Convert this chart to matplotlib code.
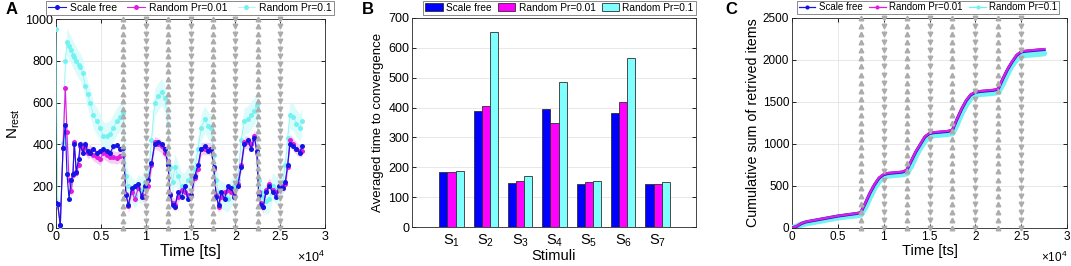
import matplotlib
matplotlib.use("Agg")
import matplotlib.pyplot as plt
import numpy as np

plt.rcParams['font.family'] = ['Liberation Sans', 'DejaVu Sans']
plt.rcParams['mathtext.default'] = 'regular'

# series names / colours
names = ["Scale free", "Random Pr=0.01", "Random Pr=0.1"]

# stimulus switch times (grey triangle columns)
stim_up = [7500, 12500, 17500, 22500]
stim_down = [10000, 15000, 20000, 25000]

# panel A: N_rest over time
t_a = [0, 185, 480, 780, 1036, 1220, 1450, 1700, 1890, 2035, 2260, 2520, 2700, 3000,
       3260, 3515, 3800, 4180, 4550, 4920, 5290, 5660, 6030, 6400, 6770, 7140, 7500,
       7800, 8070, 8440, 8800, 9180, 9550, 9900, 10300, 10650, 11000, 11400, 11770,
       12140, 12500, 12700, 13000, 13250, 13600, 14000, 14350, 14700, 15100, 15470,
       15840, 16200, 16580, 16950, 17300, 17600, 17870, 18130, 18430, 18800, 19170,
       19540, 19900, 20280, 20650, 21000, 21400, 21760, 22130, 22400, 22600, 22870,
       23120, 23400, 23800, 24160, 24530, 24900, 25270, 25570, 25830, 26080, 26450,
       26820, 27200, 27420]
nrest_sf = [120, 115, 15, 385, 495, 260, 140, 230, 260, 400, 270, 330, 400, 360,
            400, 370, 360, 380, 360, 370, 380, 370, 360, 390, 395, 380, 385,
            160, 110, 190, 200, 210, 150, 200, 230, 310, 400, 410, 400,
            380, 300, 160, 110, 100, 170, 150, 200, 140, 160, 250,
            300, 380, 390, 370, 380, 290, 150, 110, 170, 140, 200,
            190, 150, 200, 290, 400, 420, 380, 430, 370, 160, 110,
            100, 170, 200, 170, 150, 200, 190, 220, 300, 400, 390,
            380, 360, 390]
nrest_r01 = [120, 115, 12, 385, 670, 460, 230, 175, 255, 410, 265, 300, 390, 380,
             390, 360, 370, 350, 340, 330, 360, 350, 340, 340, 335, 345, 350,
             165, 105, 170, 140, 190, 160, 150, 200, 300, 410, 400, 390,
             360, 320, 165, 120, 110, 150, 180, 170, 160, 160, 240,
             280, 380, 380, 380, 380, 280, 160, 100, 150, 170, 180,
             170, 160, 210, 300, 410, 410, 400, 440, 360, 170, 120,
             100, 180, 210, 180, 170, 180, 200, 210, 290, 420, 400,
             380, 370, 370]
nrest_r1 = [950, 110, 10, 405, 800, 890, 870, 850, 830, 820, 800, 780, 770, 740,
            680, 640, 600, 540, 510, 480, 440, 440, 450, 480, 510, 530, 550,
            250, 200, 180, 160, 190, 180, 220, 250, 420, 600, 630, 650,
            620, 500, 290, 220, 290, 250, 200, 200, 230, 240, 280,
            380, 480, 520, 490, 480, 350, 230, 170, 160, 150, 140,
            170, 200, 230, 420, 510, 520, 540, 560, 590, 230, 170,
            150, 130, 140, 200, 180, 190, 220, 300, 430, 540, 530,
            500, 480, 510]
# half-width of shaded spread per series
spread_a = [12, 30, 65]

# panel B: averaged time to convergence per stimulus
stimuli = ["S$_1$", "S$_2$", "S$_3$", "S$_4$", "S$_5$", "S$_6$", "S$_7$"]
conv_sf = [185, 390, 148, 395, 145, 383, 145]
conv_r01 = [183, 405, 155, 348, 150, 420, 145]
conv_r1 = [186, 652, 172, 487, 155, 565, 152]

# panel C: cumulative retrieved items
t_c = [0, 500, 1000, 1500, 2000, 3000, 4000, 5000, 6000, 7000, 7500, 8000, 8500,
       9000, 9500, 10000, 10500, 11000, 11500, 12000, 12500, 13000, 13500, 14000,
       14500, 15000, 15500, 16000, 16500, 17000, 17500, 18000, 18500, 19000, 19500,
       20000, 20500, 21000, 21500, 22000, 22500, 23000, 23500, 24000, 24500, 25000,
       25500, 26000, 26500, 27000, 27500]
cum_sf = [0, 18, 52, 72, 82, 102, 122, 142, 157, 172, 182, 295, 415, 515, 595, 635,
          650, 655, 660, 665, 685, 795, 905, 995, 1085, 1125, 1135, 1140, 1145, 1150,
          1165, 1295, 1415, 1515, 1585, 1615, 1625, 1630, 1635, 1640, 1655, 1775,
          1885, 1975, 2055, 2095, 2105, 2110, 2115, 2120, 2125]
cum_r01 = [0, 20, 55, 75, 85, 105, 125, 145, 160, 175, 185, 300, 420, 520, 600, 640,
           655, 660, 665, 670, 690, 800, 910, 1000, 1090, 1130, 1140, 1145, 1150, 1155,
           1170, 1300, 1420, 1520, 1590, 1620, 1630, 1635, 1640, 1645, 1660, 1780,
           1890, 1980, 2060, 2100, 2110, 2115, 2120, 2125, 2130]
cum_r1 = [0, 15, 40, 55, 65, 85, 105, 125, 140, 150, 160, 250, 370, 480, 560, 605,
          625, 630, 635, 640, 650, 740, 860, 960, 1040, 1090, 1105, 1110, 1115, 1120,
          1130, 1240, 1370, 1470, 1550, 1585, 1595, 1600, 1605, 1610, 1620, 1720,
          1840, 1940, 2010, 2050, 2060, 2065, 2070, 2075, 2080]

line_cols = ['#1414e6', '#e01ee0', '#74f2f2']
band_cols = ['#c4c4ff', '#f2c6f2', '#d4fafa']
bar_cols = ['#0000ff', '#ff00ff', '#80ffff']
tri_col = '#acacac'

W, H = 1071, 266
fig = plt.figure(figsize=(W / 100, H / 100), dpi=100)


def fx(px):
    return px / W


def fy(py):
    return 1 - py / H


def style_axes(ax, ts):
    ax.tick_params(direction='in', length=3, width=0.6, labelsize=ts,
                   top=True, right=True, pad=2)
    for s in ax.spines.values():
        s.set_linewidth(0.6)
        s.set_color('#262626')
    ax.grid(True, color='#e4e4e4', linewidth=0.6)
    ax.set_axisbelow(True)


def time_axis(ax, fs, off_fs):
    ax.set_xlim(0, 30000)
    ax.set_xticks(np.arange(0, 30001, 5000))
    ax.set_xticklabels(['0', '0.5', '1', '1.5', '2', '2.5', '3'])
    ax.set_xlabel('Time [ts]', fontsize=fs, labelpad=1)
    ax.text(1.0, -0.105, r'$\times$10$^4$', transform=ax.transAxes,
            ha='right', va='top', fontsize=off_fs)


def triangles(ax, ymax, n):
    ys = np.linspace(0, ymax, n)
    for t in stim_up:
        ax.plot([t] * n, ys, linestyle='none', marker='^', ms=3.3,
                color=tri_col, mec=tri_col, zorder=6, clip_on=False)
    for t in stim_down:
        ax.plot([t] * n, ys, linestyle='none', marker='v', ms=3.3,
                color=tri_col, mec=tri_col, zorder=6, clip_on=False)


def top_legend(ax, handles, x0, x1, fs, colsp):
    leg = ax.legend(handles=handles, labels=names, ncol=3,
                    loc='upper center',
                    bbox_to_anchor=(fx((x0 + x1) / 2), fy(0.5)),
                    bbox_transform=fig.transFigure, fontsize=fs,
                    frameon=True, fancybox=False, borderpad=0.2,
                    handlelength=1.7, handletextpad=0.35, columnspacing=colsp,
                    borderaxespad=0)
    leg.get_frame().set_edgecolor('#555555')
    leg.get_frame().set_linewidth(0.6)
    return leg


# ---- panel A ----
axA = fig.add_axes([fx(56), fy(228), fx(325) - fx(56), fy(19) - fy(228)])
style_axes(axA, 9)
series_a = [nrest_sf, nrest_r01, nrest_r1]
for k in [2, 1, 0]:
    vals = np.array(series_a[k], dtype=float)
    axA.fill_between(t_a, np.clip(vals - spread_a[k], 0, None), vals + spread_a[k],
                     color=band_cols[k], alpha=0.8, linewidth=0, zorder=1 + k * 0.1)
lines = {}
for k in [2, 1, 0]:
    lw = 0.4 if k == 2 else 0.8
    ln, = axA.plot(t_a, series_a[k], color=line_cols[k], lw=lw, marker='o', ms=3.6,
                   mec='none', zorder=3 + (2 - k) * 0.5)
    lines[k] = ln
triangles(axA, 1000, 29)
axA.set_ylim(0, 1000)
axA.set_yticks(np.arange(0, 1001, 200))
time_axis(axA, 11.5, 9)
axA.set_ylabel('N$_{rest}$', fontsize=11, labelpad=2)
top_legend(axA, [lines[0], lines[1], lines[2]], 60, 320, 7.5, 1.0)
fig.text(fx(6), fy(9), 'A', fontsize=12, fontweight='bold', va='center')

# ---- panel B ----
axB = fig.add_axes([fx(412), fy(227), fx(696) - fx(412), fy(18) - fy(227)])
style_axes(axB, 9)
axB.grid(False)
axB.yaxis.grid(True, color='#e4e4e4', linewidth=0.6)
pos = np.arange(1, len(stimuli) + 1)
bw = 0.235
bars = []
for k, vals in enumerate([conv_sf, conv_r01, conv_r1]):
    b = axB.bar(pos + (k - 1) * bw, vals, width=bw, color=bar_cols[k],
                edgecolor='#303030', linewidth=0.6, zorder=3)
    bars.append(b)
axB.set_xlim(-0.15, 8.12)
axB.set_ylim(0, 700)
axB.set_yticks(np.arange(0, 701, 100))
axB.set_xticks(pos)
axB.set_xticklabels(stimuli, fontsize=10.5)
axB.tick_params(axis='x', length=0, pad=4)
axB.set_xlabel('Stimuli', fontsize=10.5, labelpad=0)
axB.set_ylabel('Averaged time to convergence', fontsize=9.5, labelpad=3)
top_legend(axB, bars, 429, 690, 7.3, 0.6)
fig.text(fx(362), fy(10), 'B', fontsize=12, fontweight='bold', va='center')

# ---- panel C ----
axC = fig.add_axes([fx(792), fy(228), fx(1067) - fx(792), fy(18) - fy(228)])
style_axes(axC, 8.5)
lc2, = axC.plot(t_c, cum_r1, color=line_cols[2], lw=4.5, solid_capstyle='round', zorder=3)
lc0, = axC.plot(t_c, cum_sf, color=line_cols[0], lw=2.2, zorder=4)
lc1, = axC.plot(t_c, cum_r01, color=line_cols[1], lw=1.6, zorder=5)
triangles(axC, 2500, 27)
axC.set_ylim(0, 2500)
axC.set_yticks(np.arange(0, 2501, 500))
time_axis(axC, 10.5, 8.5)
axC.set_ylabel('Cumulative sum of retrived items', fontsize=10.3, labelpad=2)
leg_handles = [
    plt.Line2D([], [], color=line_cols[0], lw=0.9, marker='o', ms=3, mec='none'),
    plt.Line2D([], [], color=line_cols[1], lw=0.9, marker='o', ms=3, mec='none'),
    plt.Line2D([], [], color=line_cols[2], lw=0.9, marker='o', ms=3, mec='none'),
]
top_legend(axC, leg_handles, 798, 1058, 7, 0.7)
fig.text(fx(725), fy(10), 'C', fontsize=12, fontweight='bold', va='center')

fig.savefig('out.png', dpi=100)
